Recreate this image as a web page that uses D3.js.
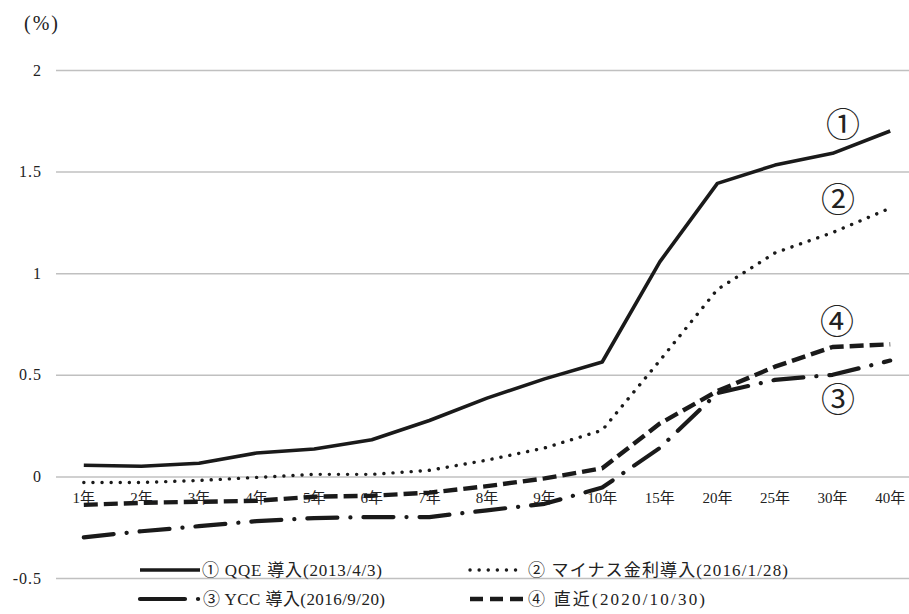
<!DOCTYPE html>
<html><head><meta charset="utf-8">
<script src="https://cdn.jsdelivr.net/npm/d3@7"></script>
<style>body{margin:0;background:#fff}svg{display:block}text{font-family:"Liberation Serif","Noto Sans CJK JP",serif;fill:#222}</style>
</head><body><svg id="c" width="909" height="614"></svg>
<script>
const categories = ["1年","2年","3年","4年","5年","6年","7年","8年","9年","10年","15年","20年","25年","30年","40年"];
const qqe   = [0.055,0.05,0.065,0.115,0.135,0.18,0.275,0.385,0.48,0.563,1.056,1.442,1.532,1.59,1.70];
const nirp  = [-0.03,-0.03,-0.02,-0.005,0.01,0.01,0.03,0.08,0.14,0.227,0.57,0.92,1.10,1.20,1.32];
const ycc   = [-0.30,-0.27,-0.245,-0.22,-0.205,-0.20,-0.20,-0.167,-0.135,-0.055,0.14,0.41,0.475,0.50,0.57];
const latest= [-0.14,-0.13,-0.125,-0.12,-0.10,-0.095,-0.08,-0.048,-0.01,0.04,0.26,0.42,0.54,0.637,0.65];
const yTicks = [-0.5,0,0.5,1,1.5,2];
const seriesNames = ["① QQE 導入(2013/4/3)","② マイナス金利導入(2016/1/28)","③ YCC 導入(2016/9/20)","④ 直近(2020/10/30)"];
const endLabels = ["①","②","③","④"];

const svg = d3.select("#c");
const x = d3.scaleBand().domain(categories).range([55,919]);
const cx = c => x(c) + x.bandwidth()/2;
const y = d3.scaleLinear().domain([-0.5,2]).range([578,70]);

// gridlines + y labels
const yAxis = d3.axisLeft(y).tickValues(yTicks).tickSize(-(919-56)).tickPadding(14)
  .tickFormat(d => d===0 ? "0" : String(d));
const ga = svg.append("g").attr("transform","translate(56,0)").call(yAxis);
ga.select(".domain").remove();
ga.selectAll(".tick line").attr("stroke","#c0c0c0").attr("stroke-width",1.5);
ga.selectAll(".tick text").attr("font-size",16).attr("fill","#222").attr("letter-spacing",1)
  .style("font-family","'Liberation Serif',serif");

svg.append("text").attr("x",24).attr("y",30).attr("font-size",20).attr("letter-spacing",2)
  .style("font-family","'Liberation Serif',serif").text("(%)");

// category labels
const xAxis = d3.axisBottom(x).tickSize(0).tickPadding(16);
const gx = svg.append("g").attr("transform",`translate(0,${y(0)})`).call(xAxis);
gx.select(".domain").remove();
gx.selectAll(".tick text").attr("font-size",15).attr("fill","#333")
  .style("font-family","'Liberation Serif','Noto Sans CJK JP',serif");

const styles = [
  {data:qqe, w:3.6, dash:null, cap:"butt"},
  {data:nirp, w:3.4, dash:"0.1,9", cap:"round"},
  {data:ycc, w:4.2, dash:"30,13,0.1,13", cap:"round"},
  {data:latest, w:4.4, dash:"14,6", cap:"butt"}
];
const line = d3.line().x((d,i)=>cx(categories[i])).y(d=>y(d));
styles.forEach(s=>{
  svg.append("path").datum(s.data).attr("d",line).attr("fill","none")
    .attr("stroke","#1a1a1a").attr("stroke-width",s.w).attr("stroke-linecap",s.cap)
    .attr("stroke-linejoin","round").attr("stroke-dasharray",s.dash);
});

// end labels
const endPos = [[843,137],[838,212],[838,412],[837,334]];
endLabels.forEach((t,i)=>{
  svg.append("text").attr("x",endPos[i][0]).attr("y",endPos[i][1]).attr("text-anchor","middle")
    .attr("font-size",34).style("font-family","'Noto Sans CJK JP'").attr("font-weight",400).text(t);
});

// legend
const legend = [
  {si:0, x1:140, x2:200, dash:null, tx:202, ty:570, tw:180},
  {si:1, x1:470, x2:520, dash:"0.1,9", tx:528, ty:570, tw:260},
  {si:2, x1:140, x2:199, dash:"45,13,0.1,30", tx:203, ty:599, tw:182},
  {si:3, x1:470, x2:523, dash:"13,7", tx:528, ty:599, tw:177}
];
legend.forEach(l=>{
  const s = styles[l.si];
  svg.append("line").attr("x1",l.x1).attr("x2",l.x2).attr("y1",l.ty).attr("y2",l.ty)
    .attr("stroke","#1a1a1a").attr("stroke-width",s.w).attr("stroke-linecap",s.cap)
    .attr("stroke-dasharray",l.dash);
  svg.append("text").attr("x",l.tx).attr("y",l.ty+6).attr("font-size",17)
    .attr("textLength",l.tw).attr("lengthAdjust","spacing").text(seriesNames[l.si]);
});
</script></body></html>
